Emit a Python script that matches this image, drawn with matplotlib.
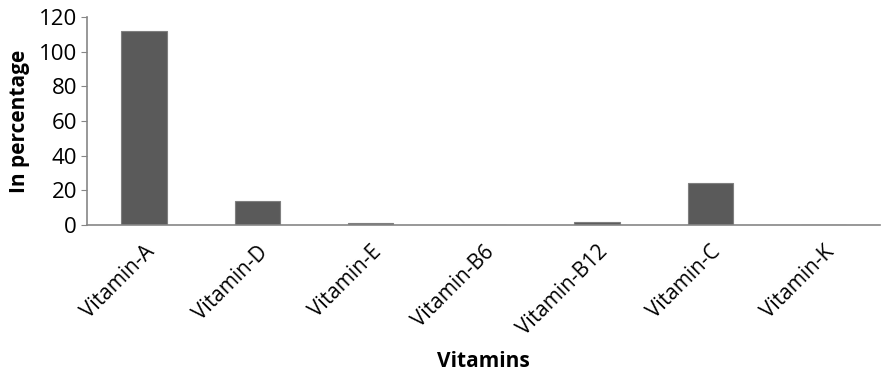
import matplotlib.pyplot as plt

vitamins = ['Vitamin-A', 'Vitamin-D', 'Vitamin-E', 'Vitamin-B6', 'Vitamin-B12', 'Vitamin-C', 'Vitamin-K']
values = [112, 14, 1, 0, 1.5, 24.2, 0]

plt.rcParams['font.family'] = ['Open Sans', 'DejaVu Sans']

fig = plt.figure(figsize=(8.91, 3.88), dpi=100)
ax = fig.add_axes([0.098, 0.42, 0.89, 0.536])

pos = [i + 0.5 for i in range(len(vitamins))]
ax.bar(pos, values, width=0.4, color='#5a5a5a', edgecolor='#7f7f7f', linewidth=0.8)

ax.set_xlim(0, len(vitamins))
ax.set_ylim(0, 120)
ax.set_yticks(range(0, 121, 20))
ax.set_xticks(pos)
ax.set_xticklabels(vitamins, rotation=45, ha='right', rotation_mode='anchor', fontsize=15)
ax.tick_params(axis='y', labelsize=16, length=4, color='#868686', direction='out')
ax.tick_params(axis='x', length=0, pad=12)

for s in ['top', 'right']:
    ax.spines[s].set_visible(False)
for s in ['left', 'bottom']:
    ax.spines[s].set_color('#868686')
    ax.spines[s].set_linewidth(1.2)

ax.set_ylabel('In percentage', fontsize=15, fontweight='bold', labelpad=6)
ax.set_xlabel('Vitamins', fontsize=15, fontweight='bold', labelpad=8)

fig.savefig('out.png', dpi=100)
